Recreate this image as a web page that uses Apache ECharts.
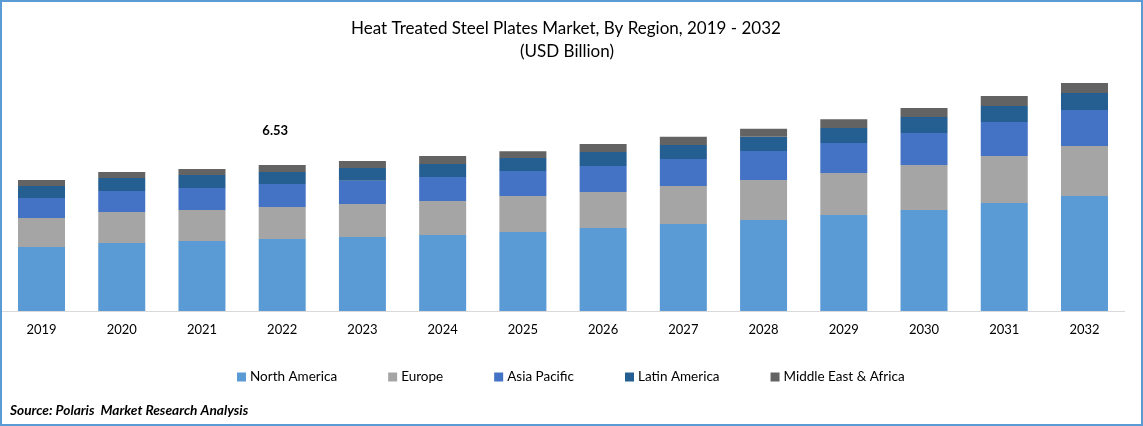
<!DOCTYPE html>
<html>
<head>
<meta charset="utf-8">
<style>html,body{margin:0;padding:0;background:#fff}#chart{width:1143px;height:426px}</style>
<script src="https://cdn.jsdelivr.net/npm/echarts@6/dist/echarts.min.js"></script>
</head>
<body>
<div id="chart"></div>
<script>
var years = ['2019','2020','2021','2022','2023','2024','2025','2026','2027','2028','2029','2030','2031','2032'];
var northAmerica = [2.86,3.04,3.13,3.22,3.31,3.40,3.53,3.71,3.89,4.07,4.29,4.52,4.83,5.14];
var europe = [1.30,1.39,1.39,1.43,1.48,1.52,1.61,1.61,1.70,1.79,1.88,2.01,2.10,2.24];
var asiaPacific = [0.89,0.94,0.98,1.03,1.03,1.07,1.12,1.16,1.21,1.30,1.34,1.43,1.52,1.61];
var latinAmerica = [0.54,0.58,0.58,0.54,0.58,0.58,0.58,0.63,0.63,0.63,0.67,0.72,0.72,0.76];
var middleEast = [0.27,0.27,0.27,0.31,0.31,0.36,0.31,0.36,0.36,0.36,0.40,0.40,0.45,0.45];
var callout = '6.53';

var font = 'Lato';
var myChart = echarts.init(document.getElementById('chart'));

function bar(name, data, color) {
    return { name: name, type: 'bar', stack: 'total', barWidth: 47, data: data, itemStyle: { color: color } };
}

var series = [
    bar('North America', northAmerica, '#5b9bd5'),
    bar('Europe', europe, '#a5a5a5'),
    bar('Asia Pacific', asiaPacific, '#4472c4'),
    bar('Latin America', latinAmerica, '#255e91'),
    bar('Middle East & Africa', middleEast, '#636363')
];
// the 2022 total sits well above its bar
series[4].label = {
    show: true, position: 'top', offset: [-7, -23],
    formatter: function (p) { return p.dataIndex === 3 ? callout : ''; },
    fontFamily: font, fontSize: 13, fontWeight: 'bold', color: '#000'
};

myChart.setOption({
    animation: false,
    backgroundColor: '#fff',
    title: [
        { text: 'Heat Treated Steel Plates Market, By Region, 2019 - 2032', left: 561, top: 12, textAlign: 'center',
          textStyle: { fontFamily: font, fontSize: 17, fontWeight: 'normal', color: '#000', lineHeight: 23 } },
        { text: '(USD Billion)', left: 562, top: 35, textAlign: 'center',
          textStyle: { fontFamily: font, fontSize: 17, fontWeight: 'normal', color: '#000', lineHeight: 23 } },
        { text: 'Source: Polaris  Market Research Analysis', left: 5, top: 399,
          textStyle: { fontFamily: font, fontSize: 13.7, fontWeight: 'bold', fontStyle: 'italic', color: '#000' } }
    ],
    legend: {
        left: 232, top: 365, itemWidth: 9, itemHeight: 9, itemGap: 51,
        icon: 'rect',
        textStyle: { fontFamily: font, fontSize: 13.5, color: '#000', padding: [0, 0, 0, -1] },
        data: ['North America', 'Europe', 'Asia Pacific', 'Latin America', 'Middle East & Africa']
    },
    grid: { left: 1.4, right: 18.4, top: 42.7, bottom: 115 },
    xAxis: {
        type: 'category', data: years,
        axisLine: { lineStyle: { color: '#d9d9d9', width: 1 } },
        axisTick: { show: false },
        axisLabel: { fontFamily: font, fontSize: 13, color: '#000', margin: 12 }
    },
    yAxis: { type: 'value', min: 0, max: 12, show: false, splitLine: { show: false } },
    series: series,
    graphic: [{
        type: 'rect', silent: true, z: 100,
        shape: { x: 1, y: 1, width: 1141, height: 424 },
        style: { fill: 'none', stroke: '#5b9bd5', lineWidth: 2 }
    }]
});
</script>
</body>
</html>
